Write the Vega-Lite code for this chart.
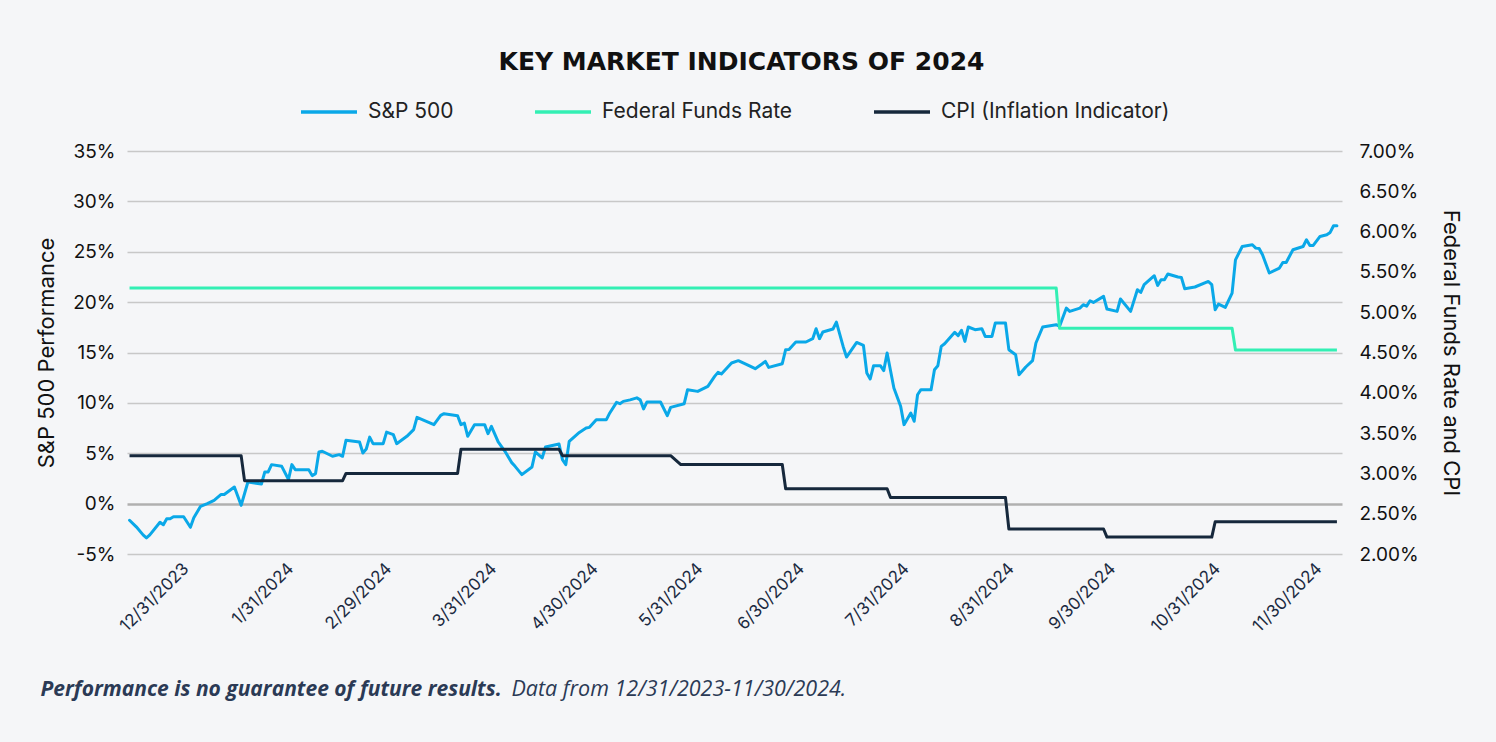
{
  "$schema": "https://vega.github.io/schema/vega-lite/v6.json",
  "autosize": "none",
  "width": 1215,
  "height": 403,
  "padding": {"left": 127, "top": 151, "right": 154, "bottom": 188},
  "background": "#f5f6f8",
  "title": {
    "text": "KEY MARKET INDICATORS OF 2024",
    "font": "DejaVu Sans",
    "fontSize": 25,
    "fontWeight": "bold",
    "color": "#111111",
    "anchor": "middle",
    "dx": 7,
    "offset": 7
  },
  "datasets": {
    "sp": [
      {"d": "2023-12-14", "v": -1.65}, {"d": "2023-12-16", "v": -2.3}, {"d": "2023-12-18", "v": -3.1}, {"d": "2023-12-19", "v": -3.4},
      {"d": "2023-12-20", "v": -3.1}, {"d": "2023-12-23", "v": -1.85}, {"d": "2023-12-24", "v": -2.1}, {"d": "2023-12-25", "v": -1.5},
      {"d": "2023-12-26", "v": -1.5}, {"d": "2023-12-27", "v": -1.3}, {"d": "2023-12-30", "v": -1.3}, {"d": "2024-01-01", "v": -2.35},
      {"d": "2024-01-02", "v": -1.4}, {"d": "2024-01-04", "v": -0.27}, {"d": "2024-01-06", "v": 0}, {"d": "2024-01-08", "v": 0.33},
      {"d": "2024-01-10", "v": 0.9}, {"d": "2024-01-11", "v": 0.9}, {"d": "2024-01-14", "v": 1.65}, {"d": "2024-01-16", "v": -0.17},
      {"d": "2024-01-18", "v": 2.15}, {"d": "2024-01-22", "v": 1.95}, {"d": "2024-01-23", "v": 3.15}, {"d": "2024-01-24", "v": 3.15},
      {"d": "2024-01-25", "v": 3.87}, {"d": "2024-01-28", "v": 3.7}, {"d": "2024-01-30", "v": 2.4}, {"d": "2024-01-31", "v": 3.87},
      {"d": "2024-02-01", "v": 3.37}, {"d": "2024-02-05", "v": 3.37}, {"d": "2024-02-06", "v": 2.78}, {"d": "2024-02-07", "v": 2.98},
      {"d": "2024-02-08", "v": 5.13}, {"d": "2024-02-09", "v": 5.2}, {"d": "2024-02-12", "v": 4.7}, {"d": "2024-02-14", "v": 4.86},
      {"d": "2024-02-15", "v": 4.7}, {"d": "2024-02-16", "v": 6.28}, {"d": "2024-02-20", "v": 6.12}, {"d": "2024-02-21", "v": 5.03},
      {"d": "2024-02-22", "v": 5.42}, {"d": "2024-02-23", "v": 6.6}, {"d": "2024-02-24", "v": 5.95}, {"d": "2024-02-27", "v": 5.95},
      {"d": "2024-02-28", "v": 7.1}, {"d": "2024-03-01", "v": 6.85}, {"d": "2024-03-02", "v": 5.95}, {"d": "2024-03-05", "v": 6.68},
      {"d": "2024-03-07", "v": 7.34}, {"d": "2024-03-08", "v": 8.56}, {"d": "2024-03-13", "v": 7.84}, {"d": "2024-03-15", "v": 8.76},
      {"d": "2024-03-16", "v": 8.93}, {"d": "2024-03-20", "v": 8.73}, {"d": "2024-03-21", "v": 7.84}, {"d": "2024-03-22", "v": 8.0},
      {"d": "2024-03-23", "v": 6.68}, {"d": "2024-03-25", "v": 7.84}, {"d": "2024-03-28", "v": 7.84}, {"d": "2024-03-29", "v": 6.94},
      {"d": "2024-03-30", "v": 7.67}, {"d": "2024-04-01", "v": 6.12}, {"d": "2024-04-03", "v": 5.19}, {"d": "2024-04-05", "v": 4.07},
      {"d": "2024-04-06", "v": 3.7}, {"d": "2024-04-08", "v": 2.88}, {"d": "2024-04-11", "v": 3.64}, {"d": "2024-04-12", "v": 5.13},
      {"d": "2024-04-14", "v": 4.53}, {"d": "2024-04-15", "v": 5.62}, {"d": "2024-04-19", "v": 5.92}, {"d": "2024-04-20", "v": 4.37},
      {"d": "2024-04-21", "v": 3.87}, {"d": "2024-04-22", "v": 6.18}, {"d": "2024-04-25", "v": 7.07}, {"d": "2024-04-27", "v": 7.5},
      {"d": "2024-04-28", "v": 7.57}, {"d": "2024-04-30", "v": 8.33}, {"d": "2024-05-03", "v": 8.33}, {"d": "2024-05-04", "v": 9.0},
      {"d": "2024-05-06", "v": 10.05}, {"d": "2024-05-07", "v": 9.92}, {"d": "2024-05-08", "v": 10.15}, {"d": "2024-05-10", "v": 10.3},
      {"d": "2024-05-12", "v": 10.5}, {"d": "2024-05-13", "v": 10.3}, {"d": "2024-05-14", "v": 9.4}, {"d": "2024-05-15", "v": 10.09},
      {"d": "2024-05-19", "v": 10.09}, {"d": "2024-05-21", "v": 8.73}, {"d": "2024-05-22", "v": 9.55}, {"d": "2024-05-26", "v": 9.92},
      {"d": "2024-05-27", "v": 11.31}, {"d": "2024-05-30", "v": 11.14}, {"d": "2024-06-02", "v": 11.64}, {"d": "2024-06-04", "v": 12.63},
      {"d": "2024-06-05", "v": 13.03}, {"d": "2024-06-06", "v": 12.87}, {"d": "2024-06-09", "v": 13.96}, {"d": "2024-06-11", "v": 14.19},
      {"d": "2024-06-14", "v": 13.72}, {"d": "2024-06-16", "v": 13.39}, {"d": "2024-06-18", "v": 13.86}, {"d": "2024-06-19", "v": 14.12},
      {"d": "2024-06-20", "v": 13.52}, {"d": "2024-06-24", "v": 13.89}, {"d": "2024-06-25", "v": 15.28}, {"d": "2024-06-26", "v": 15.3},
      {"d": "2024-06-28", "v": 16.04}, {"d": "2024-07-01", "v": 16.04}, {"d": "2024-07-03", "v": 16.37}, {"d": "2024-07-04", "v": 17.36},
      {"d": "2024-07-05", "v": 16.37}, {"d": "2024-07-06", "v": 17.03}, {"d": "2024-07-09", "v": 17.33}, {"d": "2024-07-10", "v": 18.02},
      {"d": "2024-07-12", "v": 15.6}, {"d": "2024-07-13", "v": 14.55}, {"d": "2024-07-16", "v": 16.0}, {"d": "2024-07-18", "v": 15.7},
      {"d": "2024-07-19", "v": 12.97}, {"d": "2024-07-20", "v": 12.37}, {"d": "2024-07-21", "v": 13.69}, {"d": "2024-07-23", "v": 13.69},
      {"d": "2024-07-24", "v": 13.2}, {"d": "2024-07-25", "v": 14.95}, {"d": "2024-07-27", "v": 11.48}, {"d": "2024-07-29", "v": 9.66},
      {"d": "2024-07-30", "v": 7.84}, {"d": "2024-08-01", "v": 9.0}, {"d": "2024-08-02", "v": 8.17}, {"d": "2024-08-03", "v": 10.81},
      {"d": "2024-08-04", "v": 11.31}, {"d": "2024-08-07", "v": 11.31}, {"d": "2024-08-08", "v": 13.29}, {"d": "2024-08-09", "v": 13.69},
      {"d": "2024-08-10", "v": 15.6}, {"d": "2024-08-11", "v": 15.87}, {"d": "2024-08-14", "v": 17.0}, {"d": "2024-08-15", "v": 16.67},
      {"d": "2024-08-16", "v": 17.2}, {"d": "2024-08-17", "v": 16.1}, {"d": "2024-08-18", "v": 17.53}, {"d": "2024-08-20", "v": 17.26},
      {"d": "2024-08-22", "v": 17.36}, {"d": "2024-08-23", "v": 16.6}, {"d": "2024-08-25", "v": 16.6}, {"d": "2024-08-26", "v": 17.93},
      {"d": "2024-08-29", "v": 17.93}, {"d": "2024-08-30", "v": 15.28}, {"d": "2024-09-01", "v": 14.78}, {"d": "2024-09-02", "v": 12.8},
      {"d": "2024-09-04", "v": 13.56}, {"d": "2024-09-06", "v": 14.19}, {"d": "2024-09-07", "v": 15.94}, {"d": "2024-09-09", "v": 17.53},
      {"d": "2024-09-13", "v": 17.76}, {"d": "2024-09-14", "v": 17.6}, {"d": "2024-09-16", "v": 19.41}, {"d": "2024-09-17", "v": 19.08},
      {"d": "2024-09-20", "v": 19.41}, {"d": "2024-09-21", "v": 19.74}, {"d": "2024-09-22", "v": 19.6}, {"d": "2024-09-23", "v": 20.14},
      {"d": "2024-09-24", "v": 19.97}, {"d": "2024-09-27", "v": 20.57}, {"d": "2024-09-28", "v": 19.31}, {"d": "2024-10-01", "v": 19.08},
      {"d": "2024-10-02", "v": 20.31}, {"d": "2024-10-05", "v": 19.08}, {"d": "2024-10-07", "v": 21.23}, {"d": "2024-10-08", "v": 20.96},
      {"d": "2024-10-09", "v": 21.73}, {"d": "2024-10-12", "v": 22.62}, {"d": "2024-10-13", "v": 21.66}, {"d": "2024-10-14", "v": 22.22},
      {"d": "2024-10-15", "v": 22.22}, {"d": "2024-10-16", "v": 22.79}, {"d": "2024-10-19", "v": 22.49}, {"d": "2024-10-20", "v": 22.45},
      {"d": "2024-10-21", "v": 21.33}, {"d": "2024-10-24", "v": 21.5}, {"d": "2024-10-28", "v": 22.05}, {"d": "2024-10-29", "v": 21.73},
      {"d": "2024-10-30", "v": 19.25}, {"d": "2024-10-31", "v": 19.81}, {"d": "2024-11-02", "v": 19.48}, {"d": "2024-11-04", "v": 20.9},
      {"d": "2024-11-05", "v": 24.2}, {"d": "2024-11-07", "v": 25.52}, {"d": "2024-11-10", "v": 25.69}, {"d": "2024-11-11", "v": 25.36},
      {"d": "2024-11-12", "v": 25.33}, {"d": "2024-11-13", "v": 24.7}, {"d": "2024-11-15", "v": 22.89}, {"d": "2024-11-18", "v": 23.38},
      {"d": "2024-11-19", "v": 23.94}, {"d": "2024-11-20", "v": 23.94}, {"d": "2024-11-22", "v": 25.2}, {"d": "2024-11-25", "v": 25.52},
      {"d": "2024-11-26", "v": 26.19}, {"d": "2024-11-27", "v": 25.63}, {"d": "2024-11-28", "v": 25.63}, {"d": "2024-11-30", "v": 26.52},
      {"d": "2024-12-02", "v": 26.69}, {"d": "2024-12-03", "v": 26.92}, {"d": "2024-12-04", "v": 27.58}, {"d": "2024-12-05", "v": 27.58}
    ],
    "fed": [
      {"d": "2023-12-14", "v": 5.3}, {"d": "2024-09-13", "v": 5.3}, {"d": "2024-09-14", "v": 4.8},
      {"d": "2024-11-04", "v": 4.8}, {"d": "2024-11-05", "v": 4.53}, {"d": "2024-12-05", "v": 4.53}
    ],
    "cpi": [
      {"d": "2023-12-14", "v": 3.22}, {"d": "2024-01-16", "v": 3.22}, {"d": "2024-01-17", "v": 2.91}, {"d": "2024-02-15", "v": 2.91},
      {"d": "2024-02-16", "v": 3.0}, {"d": "2024-03-20", "v": 3.0}, {"d": "2024-03-21", "v": 3.3}, {"d": "2024-04-19", "v": 3.3},
      {"d": "2024-04-20", "v": 3.22}, {"d": "2024-05-22", "v": 3.22}, {"d": "2024-05-25", "v": 3.11}, {"d": "2024-06-24", "v": 3.11},
      {"d": "2024-06-25", "v": 2.81}, {"d": "2024-07-25", "v": 2.81}, {"d": "2024-07-26", "v": 2.7}, {"d": "2024-08-29", "v": 2.7},
      {"d": "2024-08-30", "v": 2.31}, {"d": "2024-09-27", "v": 2.31}, {"d": "2024-09-28", "v": 2.21}, {"d": "2024-10-29", "v": 2.21},
      {"d": "2024-10-30", "v": 2.4}, {"d": "2024-12-05", "v": 2.4}
    ]
  },
  "layer": [
    {
      "data": {"name": "sp"},
      "mark": {"type": "line", "strokeWidth": 3, "strokeJoin": "round", "strokeCap": "round"},
      "encoding": {
        "x": {
          "field": "d", "type": "temporal",
          "scale": {"type": "utc", "domain": [{"year": 2023, "month": 12, "date": 13, "hours": 6, "utc": true}, {"year": 2024, "month": 12, "date": 6, "hours": 12, "utc": true}]},
          "axis": {
            "orient": "bottom",
            "values": [
              {"year": 2023, "month": 12, "date": 31, "utc": true}, {"year": 2024, "month": 1, "date": 31, "utc": true},
              {"year": 2024, "month": 2, "date": 29, "utc": true}, {"year": 2024, "month": 3, "date": 31, "utc": true},
              {"year": 2024, "month": 4, "date": 30, "utc": true}, {"year": 2024, "month": 5, "date": 31, "utc": true},
              {"year": 2024, "month": 6, "date": 30, "utc": true}, {"year": 2024, "month": 7, "date": 31, "utc": true},
              {"year": 2024, "month": 8, "date": 31, "utc": true}, {"year": 2024, "month": 9, "date": 30, "utc": true},
              {"year": 2024, "month": 10, "date": 31, "utc": true}, {"year": 2024, "month": 11, "date": 30, "utc": true}
            ],
            "labelExpr": "utcFormat(datum.value, '%-m/%-d/%Y')",
            "labelAngle": -45,
            "labelFontSize": 17,
            "labelColor": "#1b2a41",
            "labelPadding": 6,
            "labelOffset": -7,
            "labelOverlap": false,
            "grid": false,
            "title": "Performance is no guarantee of future results.",
            "titleFont": "Open Sans",
            "titleFontStyle": "italic",
            "titleFontWeight": "bold",
            "titleFontSize": 21,
            "titleColor": "#2b3a55",
            "titleAnchor": "start",
            "titleAlign": "left",
            "titleBaseline": "alphabetic",
            "titleX": -87,
            "titleY": 141
          }
        },
        "y": {
          "field": "v", "type": "quantitative",
          "scale": {"domain": [-5, 35], "nice": false, "zero": false},
          "axis": {
            "orient": "left",
            "values": [-5, 0, 5, 10, 15, 20, 25, 30, 35],
            "labelExpr": "datum.value + '%'",
            "labelFontSize": 19,
            "labelColor": "#111111",
            "labelPadding": 12,
            "title": "S&P 500 Performance",
            "titleFontSize": 22,
            "titleColor": "#111111",
            "titleFontWeight": "normal",
            "titlePadding": 14,
            "grid": true,
            "gridColor": {"condition": {"test": "datum.value === 0", "value": "#b0b0b0"}, "value": "#c8c8c8"},
            "gridWidth": {"condition": {"test": "datum.value === 0", "value": 2.5}, "value": 1.5}
          }
        },
        "color": {
          "datum": "S&P 500",
          "type": "nominal",
          "scale": {"domain": ["S&P 500", "Federal Funds Rate", "CPI (Inflation Indicator)"], "range": ["#0aa8e8", "#33efb4", "#16283c"]},
          "legend": {
            "orient": "none", "legendX": 172, "legendY": -69, "direction": "horizontal", "title": null,
            "symbolType": "stroke", "symbolSize": 3136, "symbolStrokeWidth": 3.5,
            "labelFontSize": 21, "labelFont": "Inter", "labelColor": "#222222", "labelOffset": 9, "labelLimit": 500, "columnPadding": 74
          }
        }
      }
    },
    {
      "layer": [
        {
          "data": {"name": "fed"},
          "mark": {"type": "line", "strokeWidth": 3, "strokeJoin": "round"},
          "encoding": {
            "x": {
              "field": "d", "type": "temporal",
              "axis": {
                "orient": "bottom",
                "labels": false,
                "grid": false,
                "title": "Data from 12/31/2023-11/30/2024.",
                "titleFont": "Open Sans",
                "titleFontStyle": "italic",
                "titleFontWeight": "normal",
                "titleFontSize": 21.5,
                "titleColor": "#2b3a55",
                "titleAnchor": "start",
                "titleAlign": "left",
                "titleBaseline": "alphabetic",
                "titleX": 384,
                "titleY": 141
              }
            },
            "y": {
              "field": "v", "type": "quantitative",
              "scale": {"domain": [2, 7], "nice": false, "zero": false},
              "axis": {
                "orient": "right",
                "values": [2, 2.5, 3, 3.5, 4, 4.5, 5, 5.5, 6, 6.5, 7],
                "labelExpr": "format(datum.value, '.2f') + '%'",
                "labelFontSize": 19,
                "labelColor": "#111111",
                "labelPadding": 17,
                "title": "Federal Funds Rate and CPI",
                "titleFontSize": 22,
                "titleColor": "#111111",
                "titleFontWeight": "normal",
                "titlePadding": 20,
                "grid": false
              }
            },
            "color": {"datum": "Federal Funds Rate", "type": "nominal"}
          }
        },
        {
          "data": {"name": "cpi"},
          "mark": {"type": "line", "strokeWidth": 3, "strokeJoin": "round"},
          "encoding": {
            "x": {"field": "d", "type": "temporal"},
            "y": {"field": "v", "type": "quantitative"},
            "color": {"datum": "CPI (Inflation Indicator)", "type": "nominal"}
          }
        }
      ]
    }
  ],
  "resolve": {"scale": {"y": "independent"}, "axis": {"x": "independent"}},
  "config": {
    "font": "Inter",
    "view": {"stroke": null},
    "axis": {"domain": false, "ticks": false, "labelFont": "Inter", "titleFont": "Inter"},
    "legend": {"symbolType": "stroke", "symbolStrokeWidth": 3.5, "labelLimit": 500}
  }
}
